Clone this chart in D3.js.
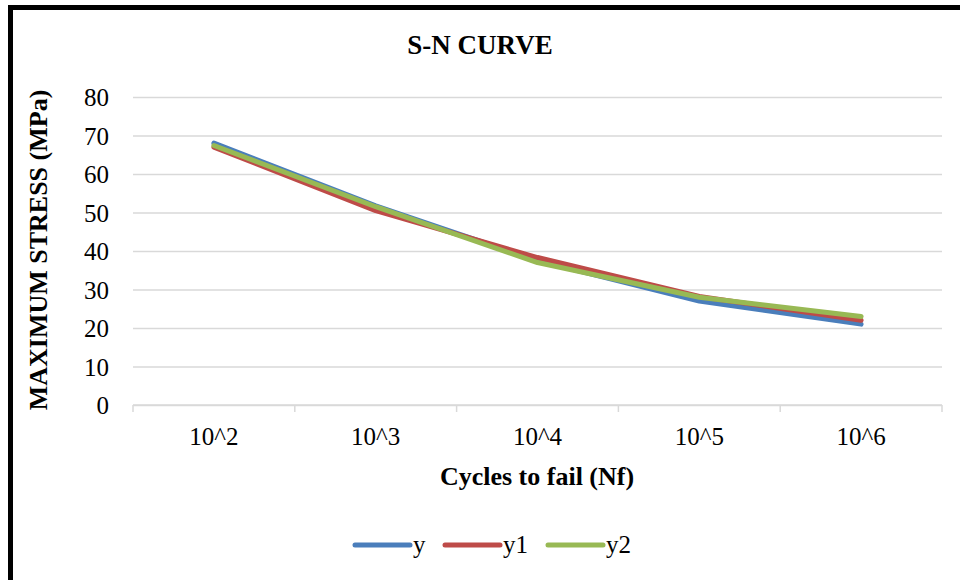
<!DOCTYPE html>
<html>
<head>
<meta charset="utf-8">
<script src="https://cdn.jsdelivr.net/npm/d3@7"></script>
<style>
  body { margin: 0; background: #fff; }
  text { font-family: "Liberation Serif", "Times New Roman", serif; fill: #000; }
</style>
</head>
<body>
<div class="container"></div>
<script>
// data
const cycles = ['10^2', '10^3', '10^4', '10^5', '10^6'];
const y  = [68, 51.7, 37.5, 27, 21];
const y1 = [67, 50.5, 38.3, 28.2, 22];
const y2 = [67.4, 51.5, 37, 28, 23];
const yTicks = [0, 10, 20, 30, 40, 50, 60, 70, 80];
const seriesNames = ['y', 'y1', 'y2'];
const seriesColors = ['#4a7ebb', '#be4b48', '#98b954'];

const W = 960, H = 580;
const svg = d3.select('.container')
  .append('svg')
  .attr('width', W)
  .attr('height', H);

// frame (only top and left show in the picture)
svg.append('rect')
  .attr('x', 10.5).attr('y', 7.5)
  .attr('width', 1000).attr('height', 700)
  .attr('fill', '#fff')
  .attr('stroke', '#000')
  .attr('stroke-width', 5);

const plotL = 133, plotR = 942, plotT = 97, plotB = 405;

const x = d3.scaleBand().domain(cycles).range([plotL, plotR]).padding(0);
const yScale = d3.scaleLinear().domain([0, 80]).range([plotB, plotT]);

// gridlines + y labels
const yAxis = svg.append('g')
  .attr('transform', `translate(${plotL},0)`)
  .call(d3.axisLeft(yScale).tickValues(yTicks).tickSize(-(plotR - plotL)).tickPadding(24));
yAxis.select('.domain').remove();
yAxis.selectAll('line').attr('stroke', '#d9d9d9').attr('stroke-width', 1.5);
yAxis.selectAll('text')
  .attr('font-size', 25)
  .attr('font-family', '"Liberation Serif", serif')
  .attr('dy', '0.34em');

// x axis: baseline + tick marks at band edges
const xg = svg.append('g');
xg.append('line')
  .attr('x1', plotL).attr('x2', plotR)
  .attr('y1', plotB).attr('y2', plotB)
  .attr('stroke', '#d9d9d9').attr('stroke-width', 1.5);
const edges = cycles.map(c => x(c)).concat([x(cycles[cycles.length - 1]) + x.bandwidth()]);
xg.selectAll('.tk')
  .data(edges)
  .join('line')
  .attr('x1', d => d).attr('x2', d => d)
  .attr('y1', plotB).attr('y2', plotB + 7)
  .attr('stroke', '#d9d9d9').attr('stroke-width', 1.5);
xg.selectAll('.lbl')
  .data(cycles)
  .join('text')
  .attr('x', d => x(d) + x.bandwidth() / 2)
  .attr('y', 445)
  .attr('text-anchor', 'middle')
  .attr('font-size', 25)
  .text(d => d);

// lines
const line = d3.line()
  .x((d, i) => x(cycles[i]) + x.bandwidth() / 2)
  .y(d => yScale(d));

[y, y1, y2].forEach((vals, k) => {
  svg.append('path')
    .datum(vals)
    .attr('d', line)
    .attr('fill', 'none')
    .attr('stroke', seriesColors[k])
    .attr('stroke-width', 5)
    .attr('stroke-linecap', 'round')
    .attr('stroke-linejoin', 'round');
});

// titles
svg.append('text')
  .attr('x', 480).attr('y', 54)
  .attr('text-anchor', 'middle')
  .attr('font-size', 27)
  .attr('font-weight', 'bold')
  .text('S-N CURVE');

svg.append('text')
  .attr('transform', 'translate(47,250) rotate(-90)')
  .attr('text-anchor', 'middle')
  .attr('font-size', 26)
  .attr('font-weight', 'bold')
  .text('MAXIMUM STRESS (MPa)');

svg.append('text')
  .attr('x', 537).attr('y', 485)
  .attr('text-anchor', 'middle')
  .attr('font-size', 26)
  .attr('font-weight', 'bold')
  .text('Cycles to fail (Nf)');

// legend
const legendX = [355, 445, 548];
const lg = svg.selectAll('.legend')
  .data(seriesNames)
  .join('g')
  .attr('transform', (d, i) => `translate(${legendX[i]},545)`);
lg.append('line')
  .attr('x1', 0).attr('x2', 55)
  .attr('stroke', (d, i) => seriesColors[i])
  .attr('stroke-width', 5)
  .attr('stroke-linecap', 'round');
lg.append('text')
  .attr('x', 58).attr('y', 8)
  .attr('font-size', 25)
  .text(d => d);
</script>
</body>
</html>
